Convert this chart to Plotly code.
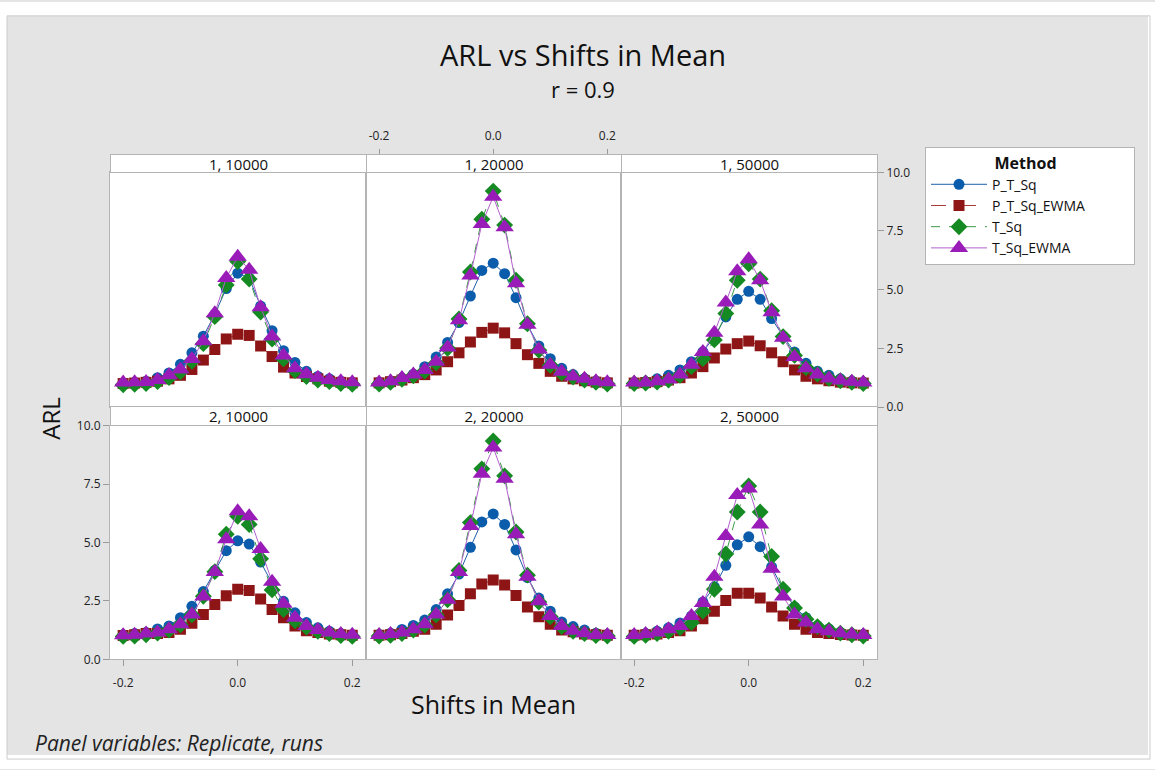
import plotly.graph_objects as go

W, H = 1155, 770

# ---------------- data ----------------
shifts = [-0.20, -0.18, -0.16, -0.14, -0.12, -0.10, -0.08, -0.06, -0.04, -0.02,
          0.00, 0.02, 0.04, 0.06, 0.08, 0.10, 0.12, 0.14, 0.16, 0.18, 0.20]

replicates = [1, 1, 1, 2, 2, 2]
runs = [10000, 20000, 50000, 10000, 20000, 50000]

methods = ["P_T_Sq", "P_T_Sq_EWMA", "T_Sq", "T_Sq_EWMA"]

# Replicate 1, runs 10000
p_t_sq_1_10000 = [1.0, 1.05, 1.1, 1.25, 1.45, 1.82, 2.31, 3.02, 3.95, 5.05, 5.7, 5.5, 4.3, 3.25, 2.4, 1.9, 1.52, 1.3, 1.2, 1.1, 1.05]
p_t_sq_ewma_1_10000 = [1.0, 1.02, 1.05, 1.1, 1.2, 1.35, 1.6, 2.0, 2.45, 2.9, 3.1, 3.05, 2.6, 2.15, 1.7, 1.45, 1.3, 1.2, 1.1, 1.05, 1.03]
t_sq_1_10000 = [0.95, 0.97, 1.0, 1.08, 1.25, 1.5, 1.95, 2.7, 3.85, 5.2, 6.2, 5.45, 4.05, 2.9, 2.05, 1.55, 1.3, 1.15, 1.08, 1.0, 0.97]
t_sq_ewma_1_10000 = [1.04, 1.05, 1.07, 1.15, 1.35, 1.6, 2.05, 2.8, 4.0, 5.5, 6.4, 5.85, 4.25, 3.0, 2.2, 1.65, 1.4, 1.25, 1.15, 1.1, 1.05]

# Replicate 1, runs 20000
p_t_sq_1_20000 = [1.05, 1.1, 1.2, 1.4, 1.72, 2.13, 2.75, 3.6, 4.73, 5.82, 6.13, 5.68, 4.66, 3.5, 2.6, 2.06, 1.65, 1.38, 1.22, 1.1, 1.05]
p_t_sq_ewma_1_20000 = [1.03, 1.08, 1.15, 1.25, 1.38, 1.58, 1.93, 2.31, 2.77, 3.18, 3.36, 3.16, 2.7, 2.23, 1.86, 1.52, 1.31, 1.2, 1.12, 1.06, 1.03]
t_sq_1_20000 = [0.98, 1.05, 1.18, 1.33, 1.53, 1.88, 2.5, 3.75, 5.75, 8.0, 9.2, 7.75, 5.4, 3.55, 2.42, 1.78, 1.45, 1.28, 1.15, 1.05, 0.98]
t_sq_ewma_1_20000 = [1.04, 1.1, 1.24, 1.38, 1.58, 1.93, 2.54, 3.7, 5.6, 7.8, 8.96, 7.66, 5.27, 3.5, 2.45, 1.8, 1.5, 1.3, 1.2, 1.1, 1.05]

# Replicate 1, runs 50000
p_t_sq_1_50000 = [1.02, 1.08, 1.2, 1.35, 1.58, 1.93, 2.35, 3.0, 3.84, 4.59, 4.93, 4.59, 3.77, 3.02, 2.34, 1.86, 1.52, 1.35, 1.2, 1.1, 1.04]
p_t_sq_ewma_1_50000 = [1.02, 1.04, 1.08, 1.15, 1.25, 1.45, 1.72, 2.09, 2.47, 2.7, 2.81, 2.61, 2.31, 1.93, 1.58, 1.31, 1.2, 1.12, 1.06, 1.03, 1.02]
t_sq_1_50000 = [1.0, 1.02, 1.06, 1.15, 1.35, 1.72, 2.06, 2.86, 3.98, 5.4, 6.1, 5.45, 4.1, 3.0, 2.2, 1.68, 1.4, 1.22, 1.12, 1.05, 1.0]
t_sq_ewma_1_50000 = [1.04, 1.04, 1.1, 1.17, 1.38, 1.8, 2.34, 3.16, 4.45, 5.78, 6.3, 5.4, 4.04, 2.95, 2.13, 1.65, 1.38, 1.22, 1.13, 1.08, 1.04]

# Replicate 2, runs 10000
p_t_sq_2_10000 = [1.05, 1.1, 1.15, 1.3, 1.43, 1.78, 2.27, 2.9, 3.8, 4.65, 5.07, 4.93, 4.16, 3.25, 2.48, 1.99, 1.57, 1.35, 1.2, 1.1, 1.05]
p_t_sq_ewma_2_10000 = [1.02, 1.05, 1.1, 1.1, 1.15, 1.29, 1.54, 1.92, 2.34, 2.72, 3.0, 2.94, 2.58, 2.13, 1.78, 1.43, 1.22, 1.15, 1.08, 1.05, 1.03]
t_sq_2_10000 = [0.98, 1.0, 1.05, 1.12, 1.25, 1.48, 1.9, 2.7, 3.75, 5.35, 6.12, 5.77, 4.3, 2.97, 2.13, 1.65, 1.38, 1.2, 1.1, 1.02, 0.98]
t_sq_ewma_2_10000 = [1.03, 1.05, 1.1, 1.15, 1.29, 1.5, 1.92, 2.69, 3.74, 5.14, 6.33, 6.12, 4.72, 3.32, 2.38, 1.78, 1.43, 1.25, 1.15, 1.08, 1.05]

# Replicate 2, runs 20000
p_t_sq_2_20000 = [1.05, 1.12, 1.28, 1.45, 1.68, 2.13, 2.8, 3.65, 4.79, 5.88, 6.22, 5.77, 4.68, 3.5, 2.62, 2.06, 1.6, 1.4, 1.25, 1.12, 1.05]
p_t_sq_ewma_2_20000 = [1.03, 1.05, 1.1, 1.2, 1.29, 1.5, 1.9, 2.3, 2.8, 3.22, 3.39, 3.18, 2.73, 2.24, 1.82, 1.5, 1.25, 1.18, 1.08, 1.05, 1.03]
t_sq_2_20000 = [1.0, 1.03, 1.1, 1.25, 1.47, 1.9, 2.55, 3.8, 5.85, 8.15, 9.34, 7.85, 5.45, 3.6, 2.45, 1.82, 1.4, 1.2, 1.1, 1.02, 1.0]
t_sq_ewma_2_20000 = [1.04, 1.08, 1.15, 1.29, 1.5, 1.92, 2.55, 3.74, 5.7, 7.94, 9.06, 7.73, 5.35, 3.53, 2.48, 1.85, 1.43, 1.22, 1.12, 1.04, 1.04]

# Replicate 2, runs 50000
p_t_sq_2_50000 = [1.05, 1.1, 1.2, 1.35, 1.55, 1.85, 2.45, 3.1, 4.02, 4.9, 5.24, 4.82, 3.95, 3.0, 2.24, 1.78, 1.43, 1.3, 1.15, 1.08, 1.05]
p_t_sq_ewma_2_50000 = [1.03, 1.05, 1.08, 1.15, 1.22, 1.43, 1.74, 2.06, 2.52, 2.83, 2.83, 2.62, 2.24, 1.85, 1.5, 1.29, 1.15, 1.1, 1.06, 1.04, 1.03]
t_sq_2_50000 = [0.98, 1.03, 1.1, 1.2, 1.35, 1.57, 2.06, 3.0, 4.51, 6.3, 7.42, 6.3, 4.4, 3.0, 2.2, 1.71, 1.4, 1.25, 1.12, 1.05, 1.0]
t_sq_ewma_2_50000 = [1.04, 1.08, 1.15, 1.29, 1.43, 1.85, 2.41, 3.53, 5.28, 7.03, 7.31, 5.77, 3.88, 2.69, 1.92, 1.57, 1.29, 1.2, 1.12, 1.06, 1.04]

panel_series = [
    [p_t_sq_1_10000, p_t_sq_ewma_1_10000, t_sq_1_10000, t_sq_ewma_1_10000],
    [p_t_sq_1_20000, p_t_sq_ewma_1_20000, t_sq_1_20000, t_sq_ewma_1_20000],
    [p_t_sq_1_50000, p_t_sq_ewma_1_50000, t_sq_1_50000, t_sq_ewma_1_50000],
    [p_t_sq_2_10000, p_t_sq_ewma_2_10000, t_sq_2_10000, t_sq_ewma_2_10000],
    [p_t_sq_2_20000, p_t_sq_ewma_2_20000, t_sq_2_20000, t_sq_ewma_2_20000],
    [p_t_sq_2_50000, p_t_sq_ewma_2_50000, t_sq_2_50000, t_sq_ewma_2_50000],
]

x_tick_vals = [-0.2, 0.0, 0.2]
x_tick_text = ["-0.2", "0.0", "0.2"]
y_tick_vals = [0, 2.5, 5, 7.5, 10]
y_tick_text = ["0.0", "2.5", "5.0", "7.5", "10.0"]

# ---------------- styles ----------------
FONT = "Open Sans"
BG = "#E4E4E4"
BORDER = "#B4B4B4"
X_RANGE = [-0.223, 0.224]
Y_RANGE = [0, 10]
styles = {
    "P_T_Sq": dict(color="#0B5CAA", line_color="#1F5FA8", symbol="circle", size=11, dash="solid"),
    "P_T_Sq_EWMA": dict(color="#8E1515", line_color="#A83A3A", symbol="square", size=11, dash="longdash"),
    "T_Sq": dict(color="#158A22", line_color="#3C9A48", symbol="diamond", size=13, dash="dash"),
    "T_Sq_EWMA": dict(color="#9A1CB8", line_color="#B160CC", symbol="triangle-up", size=16, dash="solid"),
}

# layout geometry (pixels)
col_px = [(110, 366), (366, 621), (621, 877)]
row_plot_px = [(167, 407), (426, 665)]
row_strip_px = [(149, 167), (407, 426)]


def fx(px):
    return px / W


def fy(py):
    return 1 - py / H


fig = go.Figure()

for i in range(6):
    ax = "" if i == 0 else str(i + 1)
    for m, name in enumerate(methods):
        st = styles[name]
        fig.add_trace(go.Scatter(
            x=shifts, y=panel_series[i][m],
            mode="lines+markers",
            name=name, legendgroup=name, showlegend=(i == 0),
            line=dict(color=st["line_color"], width=1, dash=st["dash"]),
            marker=dict(color=st["color"], symbol=st["symbol"], size=st["size"], line=dict(width=0)),
            xaxis="x" + ax, yaxis="y" + ax,
        ))

layout_axes = {}
tickfont = dict(family=FONT, size=12, color="#222222")
for i in range(6):
    r, c = divmod(i, 3)
    ax = "" if i == 0 else str(i + 1)
    xd = [fx(col_px[c][0]), fx(col_px[c][1])]
    yd = [fy(row_plot_px[r][1]), fy(row_plot_px[r][0])]
    frame = dict(showline=True, mirror=True, linecolor=BORDER, linewidth=1)
    xa = dict(domain=xd, range=X_RANGE, anchor="y" + ax, showgrid=False,
              zeroline=False, showticklabels=False, ticks="", fixedrange=True, **frame)
    ya = dict(domain=yd, range=Y_RANGE, anchor="x" + ax, showgrid=False,
              zeroline=False, showticklabels=False, ticks="", fixedrange=True, **frame)
    xtick = dict(showticklabels=True, ticks="outside", tickvals=x_tick_vals, ticktext=x_tick_text,
                 ticklen=6, tickcolor="#9a9a9a", tickfont=tickfont, ticklabelstandoff=6)
    ytick = dict(showticklabels=True, ticks="outside", tickvals=y_tick_vals, ticktext=y_tick_text,
                 ticklen=6, tickcolor="#9a9a9a", tickfont=tickfont)
    if i in (3, 5):
        xa.update(xtick)
    if i == 1:
        xa.update(xtick)
        xa.update(side="top", anchor="free", position=fy(row_strip_px[0][0]), ticklabelstandoff=4,
                  showline=False, mirror=False)
    if i == 2:
        ya.update(ytick)
        ya.update(side="right")
    if i == 3:
        ya.update(ytick)
        ya.update(side="left")
    layout_axes["xaxis" + ax] = xa
    layout_axes["yaxis" + ax] = ya

annotations = []
for i in range(6):
    r, c = divmod(i, 3)
    x0, x1 = fx(col_px[c][0]), fx(col_px[c][1])
    strip_h = row_strip_px[r][1] - row_strip_px[r][0]
    annotations.append(dict(text=f"{replicates[i]}, {runs[i]}", xref="paper", yref="paper",
                            x=(x0 + x1) / 2, y=(fy(row_strip_px[r][0]) + fy(row_strip_px[r][1])) / 2,
                            xanchor="center", yanchor="middle", showarrow=False,
                            width=col_px[c][1] - col_px[c][0] - 1, height=strip_h - 1,
                            bgcolor="white", bordercolor=BORDER, borderwidth=1, borderpad=0,
                            valign="middle", align="center",
                            font=dict(family=FONT, size=15, color="#111111")))

annotations += [
    dict(text="ARL vs Shifts in Mean", xref="paper", yref="paper", x=fx(583), y=fy(47),
         xanchor="center", yanchor="middle", showarrow=False,
         font=dict(family=FONT, size=29, color="#111111")),
    dict(text="r = 0.9", xref="paper", yref="paper", x=fx(583), y=fy(82),
         xanchor="center", yanchor="middle", showarrow=False,
         font=dict(family=FONT, size=22, color="#111111")),
    dict(text="Shifts in Mean", xref="paper", yref="paper", x=fx(493), y=fy(711),
         xanchor="center", yanchor="middle", showarrow=False,
         font=dict(family=FONT, size=25, color="#111111")),
    dict(text="ARL", xref="paper", yref="paper", x=fx(51), y=fy(419), textangle=-90,
         xanchor="center", yanchor="middle", showarrow=False,
         font=dict(family=FONT, size=24, color="#111111")),
    dict(text="<i>Panel variables: Replicate, runs</i>", xref="paper", yref="paper", x=fx(33), y=fy(751),
         xanchor="left", yanchor="middle", showarrow=False,
         font=dict(family=FONT, size=21, color="#222222")),
]

shapes = [
    # white outer margin and thin frame of the grey page
    dict(type="rect", xref="paper", yref="paper", x0=0, x1=1, y0=0, y1=1,
         line=dict(color="white", width=14), layer="above"),
    dict(type="rect", xref="paper", yref="paper", x0=fx(7), x1=fx(1150), y0=fy(767), y1=fy(7),
         line=dict(color="#CCCCCC", width=1), layer="above"),
]

fig.update_layout(
    width=W, height=H, autosize=False,
    margin=dict(l=0, r=0, t=0, b=0, pad=0),
    paper_bgcolor=BG, plot_bgcolor="white",
    font=dict(family=FONT, color="#111111"),
    annotations=annotations, shapes=shapes,
    dragmode=False, hovermode=False,
    legend=dict(x=fx(925), y=fy(141), xanchor="left", yanchor="top",
                bgcolor="white", bordercolor=BORDER, borderwidth=1,
                font=dict(family=FONT, size=14, color="#111111"),
                title=dict(text="\u00a0" * 16 + "<b>Method</b>" + "\u00a0" * 18,
                           font=dict(family=FONT, size=16)),
                tracegroupgap=0, itemwidth=56),
    **layout_axes,
)

fig.write_html("out.html", config={"staticPlot": True})
